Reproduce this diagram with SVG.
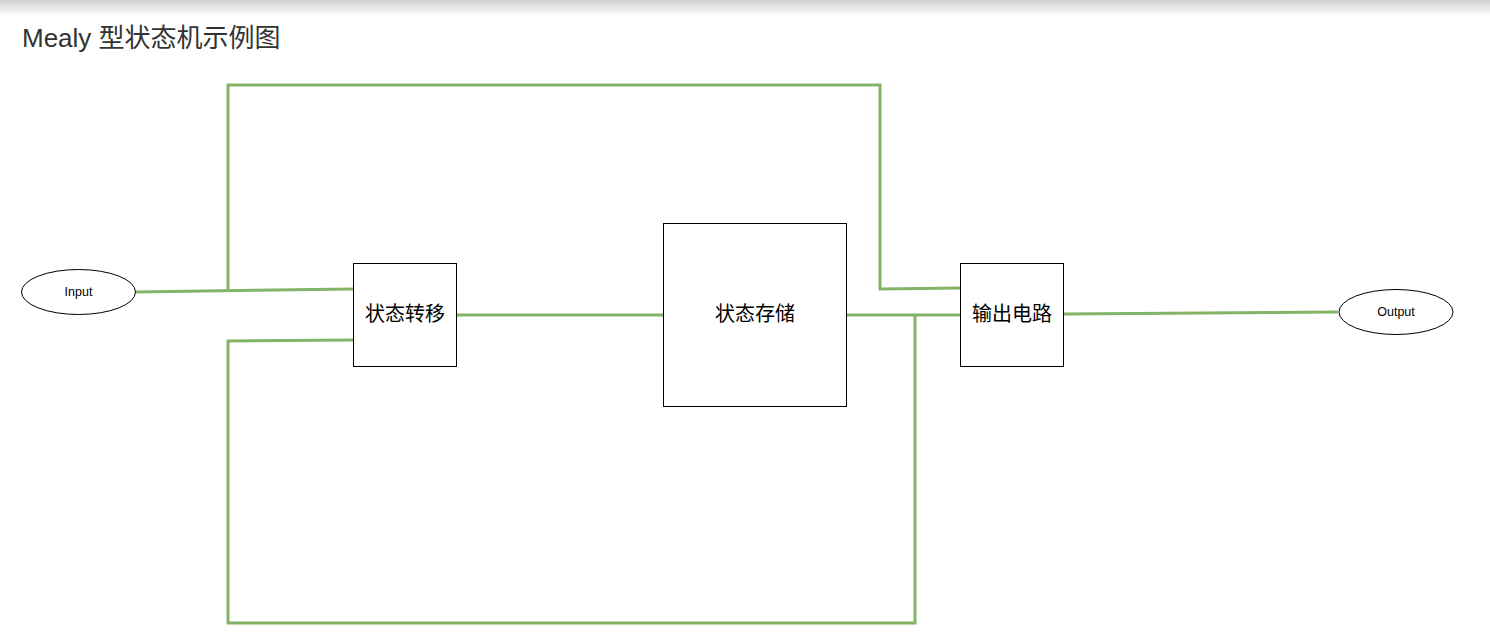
<svg xmlns="http://www.w3.org/2000/svg" width="1490" height="635" viewBox="0 0 1490 635">
<defs>
<linearGradient id="shadow" x1="0" y1="0" x2="0" y2="1">
<stop offset="0" stop-color="#000" stop-opacity="0.18"/>
<stop offset="1" stop-color="#000" stop-opacity="0"/>
</linearGradient>
<style>
.box{fill:#fff;stroke:#000;stroke-width:1}
.lbl{font-family:"Liberation Sans","Noto Sans CJK SC",sans-serif;font-size:20px;fill:#000;text-anchor:middle;dominant-baseline:central}
.small{font-family:"Liberation Sans",Arial,sans-serif;font-size:12.5px;fill:#000;text-anchor:middle;dominant-baseline:central}
.wire{fill:none;stroke:#82b366;stroke-width:3}
</style>
</defs>
<rect width="1490" height="635" fill="#fff"/>
<rect width="1490" height="16" fill="url(#shadow)"/>
<text x="22" y="47" font-family="Liberation Sans,'Noto Sans CJK SC',sans-serif" font-size="26" fill="#333">Mealy 型状态机示例图</text>
<g id="connectors">
<polyline class="wire" points="136,292 353,289"/>
<polyline class="wire" points="228,291 228,85 880,85 880,289 960,288"/>
<polyline class="wire" points="457,315 663,315"/>
<polyline class="wire" points="846,315 960,315"/>
<polyline class="wire" points="915,315 915,623 228,623 228,341 353,340"/>
<polyline class="wire" points="1064,314 1338,312"/>
</g>
<g id="input">
<ellipse cx="78.5" cy="292" rx="57" ry="22.5" class="box"/>
<text x="78.5" y="292" class="small">Input</text>
</g>
<g id="transition">
<rect x="353.5" y="263.5" width="103" height="103" class="box"/>
<text x="405" y="314" class="lbl">状态转移</text>
</g>
<g id="storage">
<rect x="663.5" y="223.5" width="183" height="183" class="box"/>
<text x="755" y="314" class="lbl">状态存储</text>
</g>
<g id="output-circuit">
<rect x="960.5" y="263.5" width="103" height="103" class="box"/>
<text x="1012" y="314" class="lbl">输出电路</text>
</g>
<g id="output">
<ellipse cx="1396" cy="312" rx="57" ry="22.5" class="box"/>
<text x="1396" y="312" class="small">Output</text>
</g>
</svg>
